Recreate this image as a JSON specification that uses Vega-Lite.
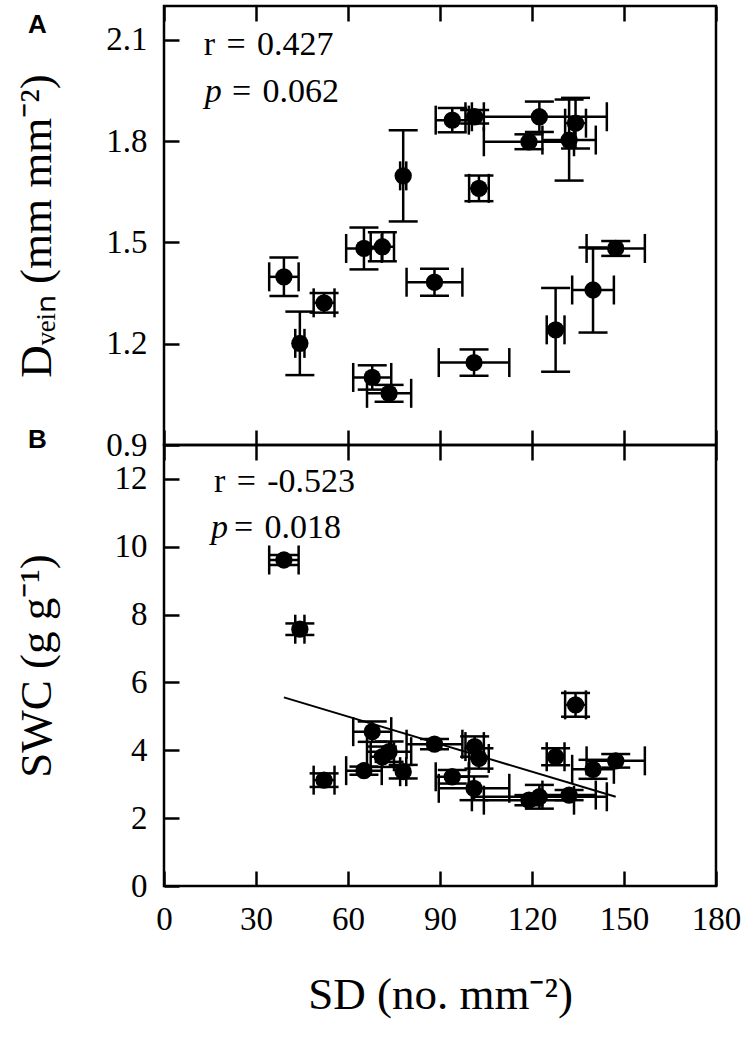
{
  "$schema": "https://vega.github.io/schema/vega-lite/v6.json",
  "background": "white",
  "padding": {"left": 12, "top": 3, "right": 0, "bottom": 0},
  "spacing": 0,
  "bounds": "flush",
  "data": {"values": [
    {"SD":39.1,"SD_lo":34.3,"SD_hi":43.9,"Dvein":1.398,"Dv_lo":1.341,"Dv_hi":1.455,"SWC":9.61,"SWC_lo":9.46,"SWC_hi":9.76},
    {"SD":44.3,"SD_lo":42.8,"SD_hi":45.8,"Dvein":1.201,"Dv_lo":1.107,"Dv_hi":1.295,"SWC":7.57,"SWC_lo":7.40,"SWC_hi":7.74},
    {"SD":52.2,"SD_lo":48.8,"SD_hi":55.6,"Dvein":1.321,"Dv_lo":1.292,"Dv_hi":1.350,"SWC":3.12,"SWC_lo":2.92,"SWC_hi":3.32},
    {"SD":65.2,"SD_lo":59.4,"SD_hi":71.0,"Dvein":1.482,"Dv_lo":1.420,"Dv_hi":1.544,"SWC":3.40,"SWC_lo":3.28,"SWC_hi":3.52},
    {"SD":67.9,"SD_lo":61.7,"SD_hi":74.1,"Dvein":1.100,"Dv_lo":1.064,"Dv_hi":1.136,"SWC":4.55,"SWC_lo":4.25,"SWC_hi":4.85},
    {"SD":71.2,"SD_lo":67.4,"SD_hi":75.0,"Dvein":1.487,"Dv_lo":1.444,"Dv_hi":1.530,"SWC":3.81,"SWC_lo":3.51,"SWC_hi":4.11},
    {"SD":73.4,"SD_lo":66.2,"SD_hi":80.6,"Dvein":1.053,"Dv_lo":1.028,"Dv_hi":1.078,"SWC":3.96,"SWC_lo":3.66,"SWC_hi":4.26},
    {"SD":78.0,"SD_lo":77.0,"SD_hi":79.0,"Dvein":1.697,"Dv_lo":1.562,"Dv_hi":1.832,"SWC":3.37,"SWC_lo":3.17,"SWC_hi":3.57},
    {"SD":88.2,"SD_lo":79.1,"SD_hi":97.3,"Dvein":1.382,"Dv_lo":1.342,"Dv_hi":1.422,"SWC":4.18,"SWC_lo":4.03,"SWC_hi":4.33},
    {"SD":94.0,"SD_lo":88.6,"SD_hi":99.4,"Dvein":1.862,"Dv_lo":1.826,"Dv_hi":1.898,"SWC":3.22,"SWC_lo":3.02,"SWC_hi":3.42},
    {"SD":101.1,"SD_lo":89.6,"SD_hi":112.6,"Dvein":1.144,"Dv_lo":1.105,"Dv_hi":1.183,"SWC":2.88,"SWC_lo":2.53,"SWC_hi":3.23},
    {"SD":101.3,"SD_lo":98.3,"SD_hi":104.3,"Dvein":1.872,"Dv_lo":1.852,"Dv_hi":1.892,"SWC":4.11,"SWC_lo":3.81,"SWC_hi":4.41},
    {"SD":102.7,"SD_lo":99.5,"SD_hi":105.9,"Dvein":1.660,"Dv_lo":1.622,"Dv_hi":1.698,"SWC":3.76,"SWC_lo":3.46,"SWC_hi":4.06},
    {"SD":119.0,"SD_lo":104.3,"SD_hi":133.7,"Dvein":1.798,"Dv_lo":1.776,"Dv_hi":1.820,"SWC":2.53,"SWC_lo":2.38,"SWC_hi":2.68},
    {"SD":122.4,"SD_lo":100.4,"SD_hi":144.4,"Dvein":1.872,"Dv_lo":1.827,"Dv_hi":1.917,"SWC":2.63,"SWC_lo":2.28,"SWC_hi":2.98},
    {"SD":127.7,"SD_lo":124.8,"SD_hi":130.6,"Dvein":1.241,"Dv_lo":1.117,"Dv_hi":1.365,"SWC":3.81,"SWC_lo":3.56,"SWC_hi":4.06},
    {"SD":132.1,"SD_lo":123.4,"SD_hi":140.8,"Dvein":1.803,"Dv_lo":1.683,"Dv_hi":1.923,"SWC":2.68,"SWC_lo":2.53,"SWC_hi":2.83},
    {"SD":134.2,"SD_lo":130.8,"SD_hi":137.6,"Dvein":1.853,"Dv_lo":1.778,"Dv_hi":1.928,"SWC":5.34,"SWC_lo":4.99,"SWC_hi":5.69},
    {"SD":139.9,"SD_lo":133.1,"SD_hi":146.7,"Dvein":1.359,"Dv_lo":1.233,"Dv_hi":1.485,"SWC":3.44,"SWC_lo":3.16,"SWC_hi":3.72},
    {"SD":147.3,"SD_lo":137.8,"SD_hi":156.8,"Dvein":1.482,"Dv_lo":1.460,"Dv_hi":1.504,"SWC":3.69,"SWC_lo":3.49,"SWC_hi":3.89}
  ]},
  "config": {
    "view": {"stroke": "black", "strokeWidth": 2.5},
    "axis": {"domain": false, "grid": false, "tickColor": "black", "tickWidth": 2.5, "tickSize": -15,
             "labelFont": "Liberation Serif", "labelFontSize": 33, "labelColor": "black",
             "titleFont": "Liberation Serif", "titleFontSize": 45, "titleFontWeight": "normal", "titleColor": "black"},
    "axisX": {"labelFlush": false, "labelOverlap": false},
    "text": {"font": "Liberation Serif", "fontSize": 34, "fill": "black", "fontWeight": "normal"}
  },
  "vconcat": [
    {
      "width": 552, "height": 439,
      "resolve": {"axis": {"x": "independent"}},
      "layer": [
        {"mark": {"type": "rule", "strokeWidth": 2.5, "color": "black"},
         "encoding": {
           "x": {"field": "SD", "type": "quantitative", "scale": {"domain": [0, 180], "nice": false, "zero": false},
                 "axis": {"orient": "bottom", "values": [0, 30, 60, 90, 120, 150, 180], "labels": false, "title": null}},
           "y": {"field": "Dv_lo", "type": "quantitative", "scale": {"domain": [0.9, 2.2], "nice": false, "zero": false},
                 "axis": {"values": [0.9, 1.2, 1.5, 1.8, 2.1], "format": ".1f", "labelPadding": 32, "titlePadding": 46, "title": "Dᵥₑᵢₙ (mm mm⁻²)"}},
           "y2": {"field": "Dv_hi"}
         }},
        {"mark": {"type": "rule", "strokeWidth": 2.5, "color": "black"},
         "encoding": {
           "x": {"field": "SD_lo", "type": "quantitative", "scale": {"domain": [0, 180], "nice": false, "zero": false},
                 "axis": {"orient": "top", "values": [0, 30, 60, 90, 120, 150, 180], "labels": false, "title": null}},
           "x2": {"field": "SD_hi"},
           "y": {"field": "Dvein", "type": "quantitative", "scale": {"domain": [0.9, 2.2], "nice": false, "zero": false}}
         }},
        {"mark": {"type": "tick", "orient": "horizontal", "size": 29, "thickness": 2.5, "color": "black", "opacity": 1},
         "encoding": {
           "x": {"field": "SD", "type": "quantitative", "axis": null},
           "y": {"field": "Dv_lo", "type": "quantitative"}
         }},
        {"mark": {"type": "tick", "orient": "horizontal", "size": 29, "thickness": 2.5, "color": "black", "opacity": 1},
         "encoding": {
           "x": {"field": "SD", "type": "quantitative", "axis": null},
           "y": {"field": "Dv_hi", "type": "quantitative"}
         }},
        {"mark": {"type": "tick", "orient": "vertical", "size": 29, "thickness": 2.5, "color": "black", "opacity": 1},
         "encoding": {
           "x": {"field": "SD_lo", "type": "quantitative", "axis": null},
           "y": {"field": "Dvein", "type": "quantitative"}
         }},
        {"mark": {"type": "tick", "orient": "vertical", "size": 29, "thickness": 2.5, "color": "black", "opacity": 1},
         "encoding": {
           "x": {"field": "SD_hi", "type": "quantitative", "axis": null},
           "y": {"field": "Dvein", "type": "quantitative"}
         }},
        {"mark": {"type": "circle", "size": 300, "color": "black", "opacity": 1},
         "encoding": {
           "x": {"field": "SD", "type": "quantitative", "axis": null},
           "y": {"field": "Dvein", "type": "quantitative"}
         }},
        {"data": {"values": [{"label": "r\u2004=\u20040.427"}]},
         "mark": {"type": "text", "align": "left", "baseline": "alphabetic", "font": "Liberation Serif", "fill": "black"},
         "encoding": {"text": {"field": "label"}, "x": {"datum": 13.0, "type": "quantitative", "axis": null}, "y": {"datum": 2.055, "type": "quantitative"}}},
        {"data": {"values": [{"label": "p"}]},
         "mark": {"type": "text", "fontStyle": "italic", "align": "left", "baseline": "alphabetic", "font": "Liberation Serif", "fill": "black"},
         "encoding": {"text": {"field": "label"}, "x": {"datum": 13.3, "type": "quantitative", "axis": null}, "y": {"datum": 1.917, "type": "quantitative"}}},
        {"data": {"values": [{"label": "=\u20040.062"}]},
         "mark": {"type": "text", "align": "left", "baseline": "alphabetic", "font": "Liberation Serif", "fill": "black"},
         "encoding": {"text": {"field": "label"}, "x": {"datum": 22.2, "type": "quantitative", "axis": null}, "y": {"datum": 1.917, "type": "quantitative"}}},
        {"data": {"values": [{"label": "A"}]},
         "mark": {"type": "text", "font": "Liberation Sans", "fontWeight": "bold", "fontSize": 26, "align": "center", "baseline": "alphabetic", "fill": "black"},
         "encoding": {"text": {"field": "label"}, "x": {"datum": -41.3, "type": "quantitative", "axis": null}, "y": {"datum": 2.119, "type": "quantitative"}}}
      ]
    },
    {
      "width": 552, "height": 441,
      "resolve": {"axis": {"x": "independent"}},
      "layer": [
        {"mark": {"type": "rule", "strokeWidth": 2.5, "color": "black"},
         "encoding": {
           "x": {"field": "SD", "type": "quantitative", "scale": {"domain": [0, 180], "nice": false, "zero": false},
                 "axis": {"orient": "bottom", "values": [0, 30, 60, 90, 120, 150, 180], "labelPadding": 32, "titlePadding": 36, "title": "SD (no. mm⁻²)"}},
           "y": {"field": "SWC_lo", "type": "quantitative", "scale": {"domain": [0, 13], "nice": false, "zero": false},
                 "axis": {"values": [0, 2, 4, 6, 8, 10, 12], "labelPadding": 32, "titlePadding": 55, "title": "SWC (g g⁻¹)"}},
           "y2": {"field": "SWC_hi"}
         }},
        {"mark": {"type": "rule", "strokeWidth": 2.5, "color": "black"},
         "encoding": {
           "x": {"field": "SD_lo", "type": "quantitative", "scale": {"domain": [0, 180], "nice": false, "zero": false},
                 "axis": {"orient": "top", "values": [0, 30, 60, 90, 120, 150, 180], "labels": false, "title": null}},
           "x2": {"field": "SD_hi"},
           "y": {"field": "SWC", "type": "quantitative", "scale": {"domain": [0, 13], "nice": false, "zero": false}}
         }},
        {"mark": {"type": "tick", "orient": "horizontal", "size": 29, "thickness": 2.5, "color": "black", "opacity": 1},
         "encoding": {
           "x": {"field": "SD", "type": "quantitative", "axis": null},
           "y": {"field": "SWC_lo", "type": "quantitative"}
         }},
        {"mark": {"type": "tick", "orient": "horizontal", "size": 29, "thickness": 2.5, "color": "black", "opacity": 1},
         "encoding": {
           "x": {"field": "SD", "type": "quantitative", "axis": null},
           "y": {"field": "SWC_hi", "type": "quantitative"}
         }},
        {"mark": {"type": "tick", "orient": "vertical", "size": 29, "thickness": 2.5, "color": "black", "opacity": 1},
         "encoding": {
           "x": {"field": "SD_lo", "type": "quantitative", "axis": null},
           "y": {"field": "SWC", "type": "quantitative"}
         }},
        {"mark": {"type": "tick", "orient": "vertical", "size": 29, "thickness": 2.5, "color": "black", "opacity": 1},
         "encoding": {
           "x": {"field": "SD_hi", "type": "quantitative", "axis": null},
           "y": {"field": "SWC", "type": "quantitative"}
         }},
        {"mark": {"type": "circle", "size": 300, "color": "black", "opacity": 1},
         "encoding": {
           "x": {"field": "SD", "type": "quantitative", "axis": null},
           "y": {"field": "SWC", "type": "quantitative"}
         }},
        {"data": {"values": [{"SD": 39.1, "SWC_fit": 5.56}, {"SD": 147.3, "SWC_fit": 2.63}]},
         "mark": {"type": "line", "color": "black", "strokeWidth": 2},
         "encoding": {
           "x": {"field": "SD", "type": "quantitative", "axis": null},
           "y": {"field": "SWC_fit", "type": "quantitative"}
         }},
        {"data": {"values": [{"label": "r\u2004=\u2004-0.523"}]},
         "mark": {"type": "text", "align": "left", "baseline": "alphabetic", "font": "Liberation Serif", "fill": "black"},
         "encoding": {"text": {"field": "label"}, "x": {"datum": 16.3, "type": "quantitative", "axis": null}, "y": {"datum": 11.62, "type": "quantitative"}}},
        {"data": {"values": [{"label": "p"}]},
         "mark": {"type": "text", "fontStyle": "italic", "align": "left", "baseline": "alphabetic", "font": "Liberation Serif", "fill": "black"},
         "encoding": {"text": {"field": "label"}, "x": {"datum": 15.3, "type": "quantitative", "axis": null}, "y": {"datum": 10.25, "type": "quantitative"}}},
        {"data": {"values": [{"label": "=\u20040.018"}]},
         "mark": {"type": "text", "align": "left", "baseline": "alphabetic", "font": "Liberation Serif", "fill": "black"},
         "encoding": {"text": {"field": "label"}, "x": {"datum": 22.8, "type": "quantitative", "axis": null}, "y": {"datum": 10.25, "type": "quantitative"}}},
        {"data": {"values": [{"label": "B"}]},
         "mark": {"type": "text", "font": "Liberation Sans", "fontWeight": "bold", "fontSize": 26, "align": "center", "baseline": "alphabetic", "fill": "black"},
         "encoding": {"text": {"field": "label"}, "x": {"datum": -41.3, "type": "quantitative", "axis": null}, "y": {"datum": 12.9, "type": "quantitative"}}}
      ]
    }
  ]
}
